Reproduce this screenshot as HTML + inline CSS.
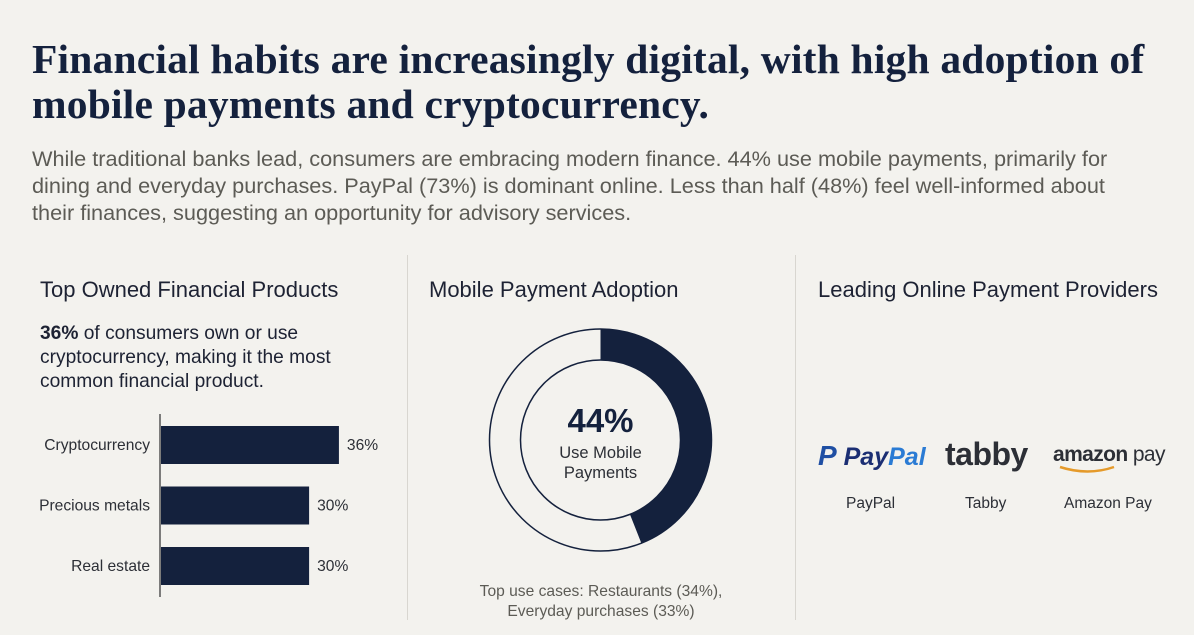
<!DOCTYPE html>
<html><head><meta charset="utf-8"><style>
body{margin:0;width:1194px;height:635px;background:#f3f2ee;overflow:hidden;position:relative;font-family:"Liberation Sans",sans-serif;color:#1d2233}
.a{position:absolute;white-space:nowrap}
h1{margin:0;position:absolute;left:32px;top:37px;font:bold 41.5px/45px "Liberation Serif",serif;color:#14213d;letter-spacing:0.2px}
.sub{left:32px;top:145px;font-size:21.7px;line-height:27px;color:#5c5b55}
.hd{font-size:22px;color:#1d2233;top:277px}
.div{position:absolute;top:255px;width:1px;height:365px;background:#d8d6d0}
</style></head><body>
<h1>Financial habits are increasingly digital, with high adoption of<br>mobile payments and cryptocurrency.</h1>
<div class="a sub">While traditional banks lead, consumers are embracing modern finance. 44% use mobile payments, primarily for<br>dining and everyday purchases. PayPal (73%) is dominant online. Less than half (48%) feel well-informed about<br>their finances, suggesting an opportunity for advisory services.</div>
<div class="div" style="left:407px"></div>
<div class="div" style="left:795px"></div>
<div class="a hd" style="left:40px">Top Owned Financial Products</div>
<div class="a hd" style="left:429px">Mobile Payment Adoption</div>
<div class="a hd" style="left:818px">Leading Online Payment Providers</div>
<div class="a" style="left:40px;top:322px;font-size:19.2px;line-height:24px"><b>36%</b> of consumers own or use<br>cryptocurrency, making it the most<br>common financial product.</div>
<svg class="a" style="left:0;top:0" width="1194" height="635" id="chart"></svg>
<div class="a" style="left:465px;top:582px;width:272px;text-align:center;font-size:15.6px;line-height:20px;color:#5c5b55">Top use cases: Restaurants (34%),<br>Everyday purchases (33%)</div>
<div class="a" style="left:818px;top:440px;font:italic bold 25px 'Liberation Sans',sans-serif;color:#1b2e73"><span style="color:#1f4fa3;font-size:28px">P</span> Pay<span style="color:#2a7bd4">Pal</span></div>
<div class="a" style="left:945px;top:436px;font:bold 32px 'Liberation Sans',sans-serif;color:#2c2f36;letter-spacing:-0.5px">tabby</div>
<div class="a" style="left:1053px;top:443px;font:21px 'Liberation Sans',sans-serif;color:#2c2f36;letter-spacing:-0.6px"><b>amazon</b> pay</div>
<svg class="a" style="left:1058px;top:464px" width="70" height="12"><path d="M2 3 Q30 12 56 3" stroke="#e59a2a" stroke-width="2.5" fill="none"/></svg>
<div class="a" style="left:846px;top:495px;font-size:15.5px;color:#2c2f36">PayPal</div>
<div class="a" style="left:965px;top:495px;font-size:15.5px;color:#2c2f36">Tabby</div>
<div class="a" style="left:1064px;top:495px;font-size:15.5px;color:#2c2f36">Amazon Pay</div>
<script>
const categories=["Cryptocurrency","Precious metals","Real estate"];
const values=[36,30,30];
const donutValue=[44];
const NS="http://www.w3.org/2000/svg";
const svg=document.getElementById('chart');
function mk(t,at){const e=document.createElementNS(NS,t);for(const k in at)e.setAttribute(k,at[k]);svg.appendChild(e);return e;}
const x0=160,pxPer=4.97,barTop=426,step=60.5,barH=38;
const xs=v=>x0+v*pxPer;
const ax=mk('line',{x1:x0,y1:414,x2:x0,y2:597,stroke:'#555',"stroke-width":1.5});


categories.forEach((c,i)=>{
 const y=barTop+i*step;
 const r=mk('rect',{x:x0+1,y:y,width:xs(values[i])-x0-1,height:barH,fill:'#14213d'});
 
 
 const l=mk('text',{x:150,y:y+barH/2+5,"text-anchor":"end","font-size":15.6,fill:'#2c2f36'});l.textContent=c;
 
 
 const v=mk('text',{x:xs(values[i])+8,y:y+barH/2+5,"font-size":15.6,fill:'#2c2f36'});v.textContent=values[i]+'%';
 
 
});
const cx=600.5,cy=440,R=111,r0=80;
const c1=mk('circle',{cx,cy,r:R,fill:'none',stroke:'#14213d',"stroke-width":1.5});


const c2=mk('circle',{cx,cy,r:r0,fill:'none',stroke:'#14213d',"stroke-width":1.5});


const ang=donutValue[0]/100*2*Math.PI;
const P=(rr,a)=>[cx+rr*Math.sin(a),cy-rr*Math.cos(a)];
const [ax1,ay1]=P(R,0),[ax2,ay2]=P(R,ang),[bx2,by2]=P(r0,ang),[bx1,by1]=P(r0,0);
const lg=ang>Math.PI?1:0;
const arc=mk('path',{d:`M${ax1} ${ay1}A${R} ${R} 0 ${lg} 1 ${ax2} ${ay2}L${bx2} ${by2}A${r0} ${r0} 0 ${lg} 0 ${bx1} ${by1}Z`,fill:'#14213d'});


const t1=mk('text',{x:cx,y:432,"text-anchor":"middle","font-size":33,"font-weight":"bold",fill:'#14213d'});t1.textContent=donutValue[0]+'%';


const t2=mk('text',{x:cx,y:458,"text-anchor":"middle","font-size":16.5,fill:'#2c2f36'});t2.textContent='Use Mobile';


const t3=mk('text',{x:cx,y:478,"text-anchor":"middle","font-size":16.5,fill:'#2c2f36'});t3.textContent='Payments';


</script>
</body></html>
